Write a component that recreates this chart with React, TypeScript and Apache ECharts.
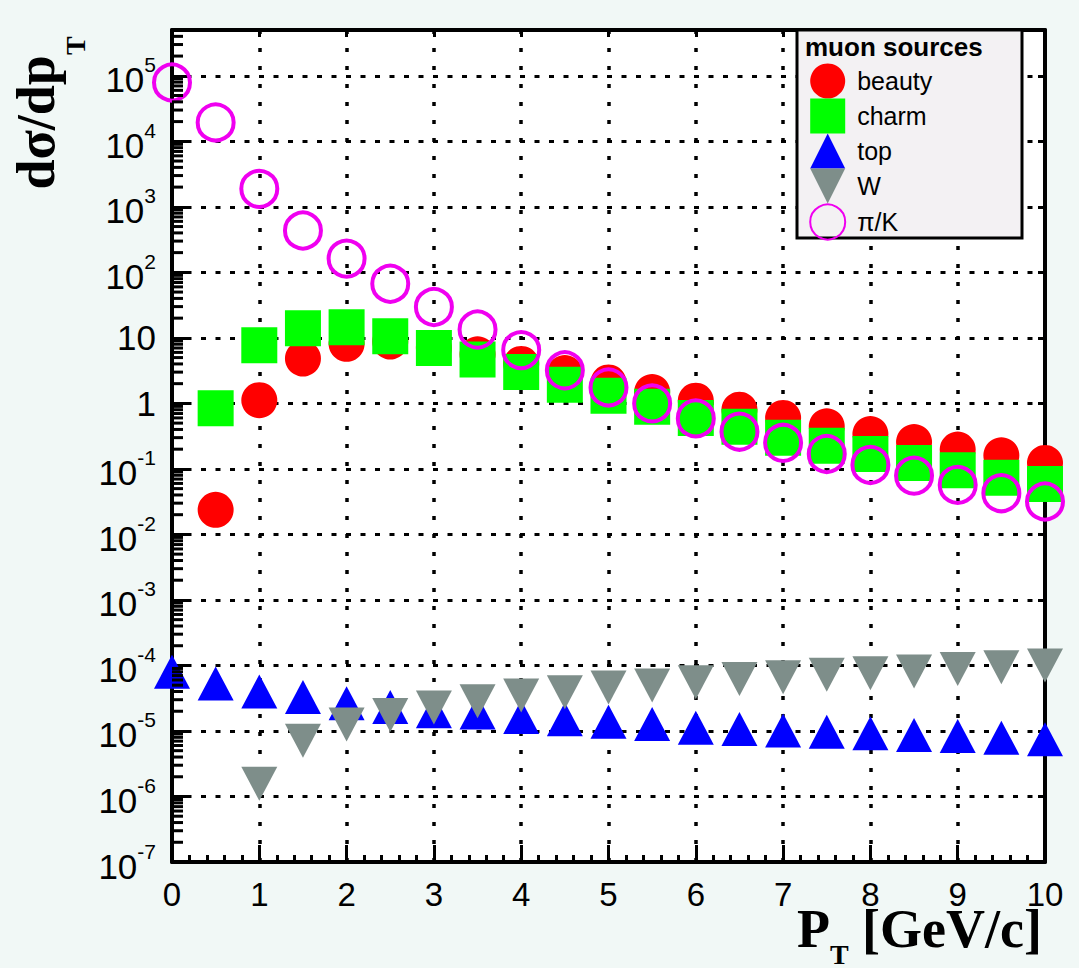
import React, { useEffect, useRef } from "react";
import * as echarts from "echarts";

// pT bin centres [GeV/c]
const pT = [0, 0.5, 1, 1.5, 2, 2.5, 3, 3.5, 4, 4.5, 5, 5.5, 6, 6.5, 7, 7.5, 8, 8.5, 9, 9.5, 10];

// dσ/dpT per muon source (null = no point)
const beauty = [null, 0.0237, 1.12, 4.84, 8.1, 8.8, 7.0, 5.6, 4.0, 2.9, 2.09, 1.49, 1.1, 0.8, 0.6, 0.447, 0.34, 0.257, 0.197, 0.161, 0.123];
const charm = [null, 0.84, 7.7, 14.0, 14.5, 10.6, 7.0, 4.68, 3.0, 1.92, 1.31, 0.89, 0.6, 0.44, 0.3, 0.226, 0.169, 0.123, 0.095, 0.073, 0.059];
const top = [8.0e-5, 5.3e-5, 4.0e-5, 3.3e-5, 2.66e-5, 2.33e-5, 2.0e-5, 1.92e-5, 1.63e-5, 1.51e-5, 1.38e-5, 1.28e-5, 1.12e-5, 1.07e-5, 1.02e-5, 9.7e-6, 9.2e-6, 8.7e-6, 8.35e-6, 7.9e-6, 7.5e-6];
const W = [null, null, 1.57e-6, 7.1e-6, 1.26e-5, 1.76e-5, 2.29e-5, 2.85e-5, 3.47e-5, 3.9e-5, 4.6e-5, 4.95e-5, 5.56e-5, 6.2e-5, 6.6e-5, 7.2e-5, 7.6e-5, 8.05e-5, 8.8e-5, 9.4e-5, 1.0e-4];
const piK = [7.9e4, 1.94e4, 1.88e3, 435, 162, 67, 29.6, 13.4, 6.5, 3.2, 1.75, 1.0, 0.59, 0.37, 0.25, 0.169, 0.115, 0.079, 0.057, 0.0426, 0.0318];

const seriesNames = ["beauty", "charm", "top", "W", "π/K"];

// axis ranges
const yMin = 1e-7;
const yMax = 5e5;
const xTicks = [0, 1, 2, 3, 4, 5, 6, 7, 8, 9, 10];

const toPoints = (vals: (number | null)[]) =>
  vals
    .map((v, i) => (v == null ? null : [pT[i], Math.log10(v)]))
    .filter((p) => p !== null) as number[][];

// minor log ticks (2..9 × 10^n) within the axis range
const minorLogTicks: number[][] = [];
for (let n = -7; n <= 5; n++) {
  for (let k = 2; k <= 9; k++) {
    const v = k * Math.pow(10, n);
    if (v < yMax) minorLogTicks.push([0, Math.log10(v)]);
  }
}

const SANS = "Liberation Sans";
const SERIF = "Liberation Serif";

export default function App() {
  const ref = useRef<HTMLDivElement>(null);

  useEffect(() => {
    if (!ref.current) return;
    const chart = echarts.init(ref.current, undefined, { renderer: "svg" });

    const lo = Math.log10(yMin);
    const hi = Math.log10(yMax);

    const yLabel = (v: number) => {
      if (Math.abs(v - Math.round(v)) > 1e-6) return "";
      const n = Math.round(v);
      if (n === 0) return "{b|1}";
      if (n === 1) return "{b|10}";
      return "{b|10}{s|" + (n < 0 ? "-" + -n : n) + "}";
    };

    const gridDotsH = { type: [5, 9.5] as number[], color: "#000", width: 3 };
    const gridDotsV = { type: [4, 14] as number[], color: "#000", width: 3.5 };

    const option: any = {
      animation: false,
      backgroundColor: "#f1f8f6",
      grid: {
        left: 172,
        top: 30,
        width: 873,
        height: 832,
        show: true,
        backgroundColor: "#ffffff",
        borderWidth: 0,
      },
      xAxis: [
        {
          type: "value",
          min: xTicks[0],
          max: xTicks[xTicks.length - 1],
          interval: 1,
          position: "bottom",
          axisLine: { show: true, onZero: false, lineStyle: { color: "#000", width: 4 } },
          axisTick: { show: true, inside: true, length: 17, lineStyle: { color: "#000", width: 3 } },
          minorTick: { show: true, splitNumber: 5, length: 7, lineStyle: { color: "#000", width: 3 } },
          axisLabel: { show: true, fontSize: 33, fontFamily: SANS, color: "#000", margin: 16, lineHeight: 33 },
          splitLine: { show: true, lineStyle: gridDotsV },
        },
        {
          type: "value",
          min: xTicks[0],
          max: xTicks[xTicks.length - 1],
          interval: 1,
          position: "top",
          axisLine: { show: true, onZero: false, lineStyle: { color: "#000", width: 4 } },
          axisTick: { show: true, inside: true, length: 7, lineStyle: { color: "#000", width: 3 } },
          axisLabel: { show: false },
          splitLine: { show: false },
        },
      ],
      yAxis: [
        {
          type: "value",
          min: lo,
          max: hi,
          interval: 1,
          position: "left",
          axisLine: { show: true, onZero: false, lineStyle: { color: "#000", width: 4 } },
          axisTick: { show: true, inside: true, length: 17, lineStyle: { color: "#000", width: 3 } },
          axisLabel: {
            show: true,
            margin: 16,
            formatter: yLabel,
            rich: {
              b: { fontSize: 35, fontFamily: SANS, color: "#000", verticalAlign: "bottom" },
              s: { fontSize: 21, fontFamily: SANS, color: "#000", verticalAlign: "bottom", padding: [0, 0, 22, 0] },
            },
          },
          splitLine: { show: true, lineStyle: gridDotsH },
        },
        {
          type: "value",
          min: lo,
          max: hi,
          interval: 1,
          position: "right",
          axisLine: { show: true, onZero: false, lineStyle: { color: "#000", width: 4 } },
          axisTick: { show: true, inside: true, length: 7, lineStyle: { color: "#000", width: 3 } },
          axisLabel: { show: false },
          splitLine: { show: false },
        },
      ],
      legend: {
        data: seriesNames,
        orient: "vertical",
        left: 809.2,
        top: 63.5,
        padding: 0,
        itemWidth: 35,
        itemHeight: 35,
        itemGap: 0,
        selectedMode: false,
        textStyle: { fontSize: 25, fontFamily: SANS, color: "#000", padding: [0, 0, 0, 7] },
        z: 6,
      },
      graphic: [
        {
          type: "rect",
          z: 5,
          shape: { x: 797, y: 30, width: 225, height: 208 },
          style: { fill: "#f3f1f3", stroke: "#000", lineWidth: 3 },
        },
        {
          type: "text",
          z: 7,
          x: 805,
          y: 47,
          style: {
            text: "muon sources",
            font: "bold 26px " + SANS,
            fill: "#000",
            align: "left",
            verticalAlign: "middle",
          },
        },
        {
          type: "text",
          x: 49,
          y: 113,
          rotation: Math.PI / 2,
          style: {
            text: "{m|dσ/dp}{s|T}",
            align: "center",
            verticalAlign: "middle",
            rich: {
              m: { fontSize: 54, fontFamily: SERIF, fontWeight: "bold", fill: "#000", color: "#000", verticalAlign: "bottom", padding: [0, 0, 26, 0] },
              s: { fontSize: 28, fontFamily: SERIF, fontWeight: "bold", fill: "#000", color: "#000", verticalAlign: "bottom" },
            },
          },
        },
        {
          type: "text",
          x: 1042,
          y: 935,
          style: {
            text: "{m|P}{s|T}{m| [GeV/c]}",
            align: "right",
            verticalAlign: "middle",
            rich: {
              m: { fontSize: 54, fontFamily: SERIF, fontWeight: "bold", fill: "#000", color: "#000", verticalAlign: "bottom", padding: [0, 0, 12, 0] },
              s: { fontSize: 28, fontFamily: SERIF, fontWeight: "bold", fill: "#000", color: "#000", verticalAlign: "bottom" },
            },
          },
        },
      ],
      series: [
        {
          name: "minor-ticks",
          type: "custom",
          silent: true,
          clip: false,
          z: 3,
          data: minorLogTicks,
          renderItem: (params: any, api: any) => {
            const p = api.coord([api.value(0), api.value(1)]);
            return {
              type: "line",
              shape: { x1: p[0], y1: p[1], x2: p[0] + 11, y2: p[1] },
              style: { stroke: "#000", lineWidth: 3 },
            };
          },
        },
        {
          name: "beauty",
          type: "scatter",
          clip: false,
          symbol: "circle",
          symbolSize: 36,
          itemStyle: { color: "#ff0000", opacity: 1 },
          data: toPoints(beauty),
        },
        {
          name: "charm",
          type: "scatter",
          clip: false,
          symbol: "rect",
          symbolSize: 36,
          itemStyle: { color: "#00ff00", opacity: 1 },
          data: toPoints(charm),
        },
        {
          name: "top",
          type: "scatter",
          clip: false,
          symbol: "triangle",
          symbolSize: [36, 34],
          itemStyle: { color: "#0000ff", opacity: 1 },
          data: toPoints(top),
        },
        {
          name: "W",
          type: "scatter",
          clip: false,
          symbol: "path://M0,0L10,0L5,10Z",
          symbolSize: [36, 34],
          itemStyle: { color: "#7e8e8a", opacity: 1 },
          data: toPoints(W),
        },
        {
          name: "π/K",
          type: "scatter",
          clip: false,
          symbol: "circle",
          symbolSize: 36,
          itemStyle: { color: "rgba(0,0,0,0)", borderColor: "#f000f0", borderWidth: 4, opacity: 1 },
          data: toPoints(piK),
        },
      ],
    };

    chart.setOption(option);
    return () => chart.dispose();
  }, []);

  return (
    <div
      ref={ref}
      style={{ position: "fixed", left: 0, top: 0, width: 1079, height: 968 }}
    />
  );
}
